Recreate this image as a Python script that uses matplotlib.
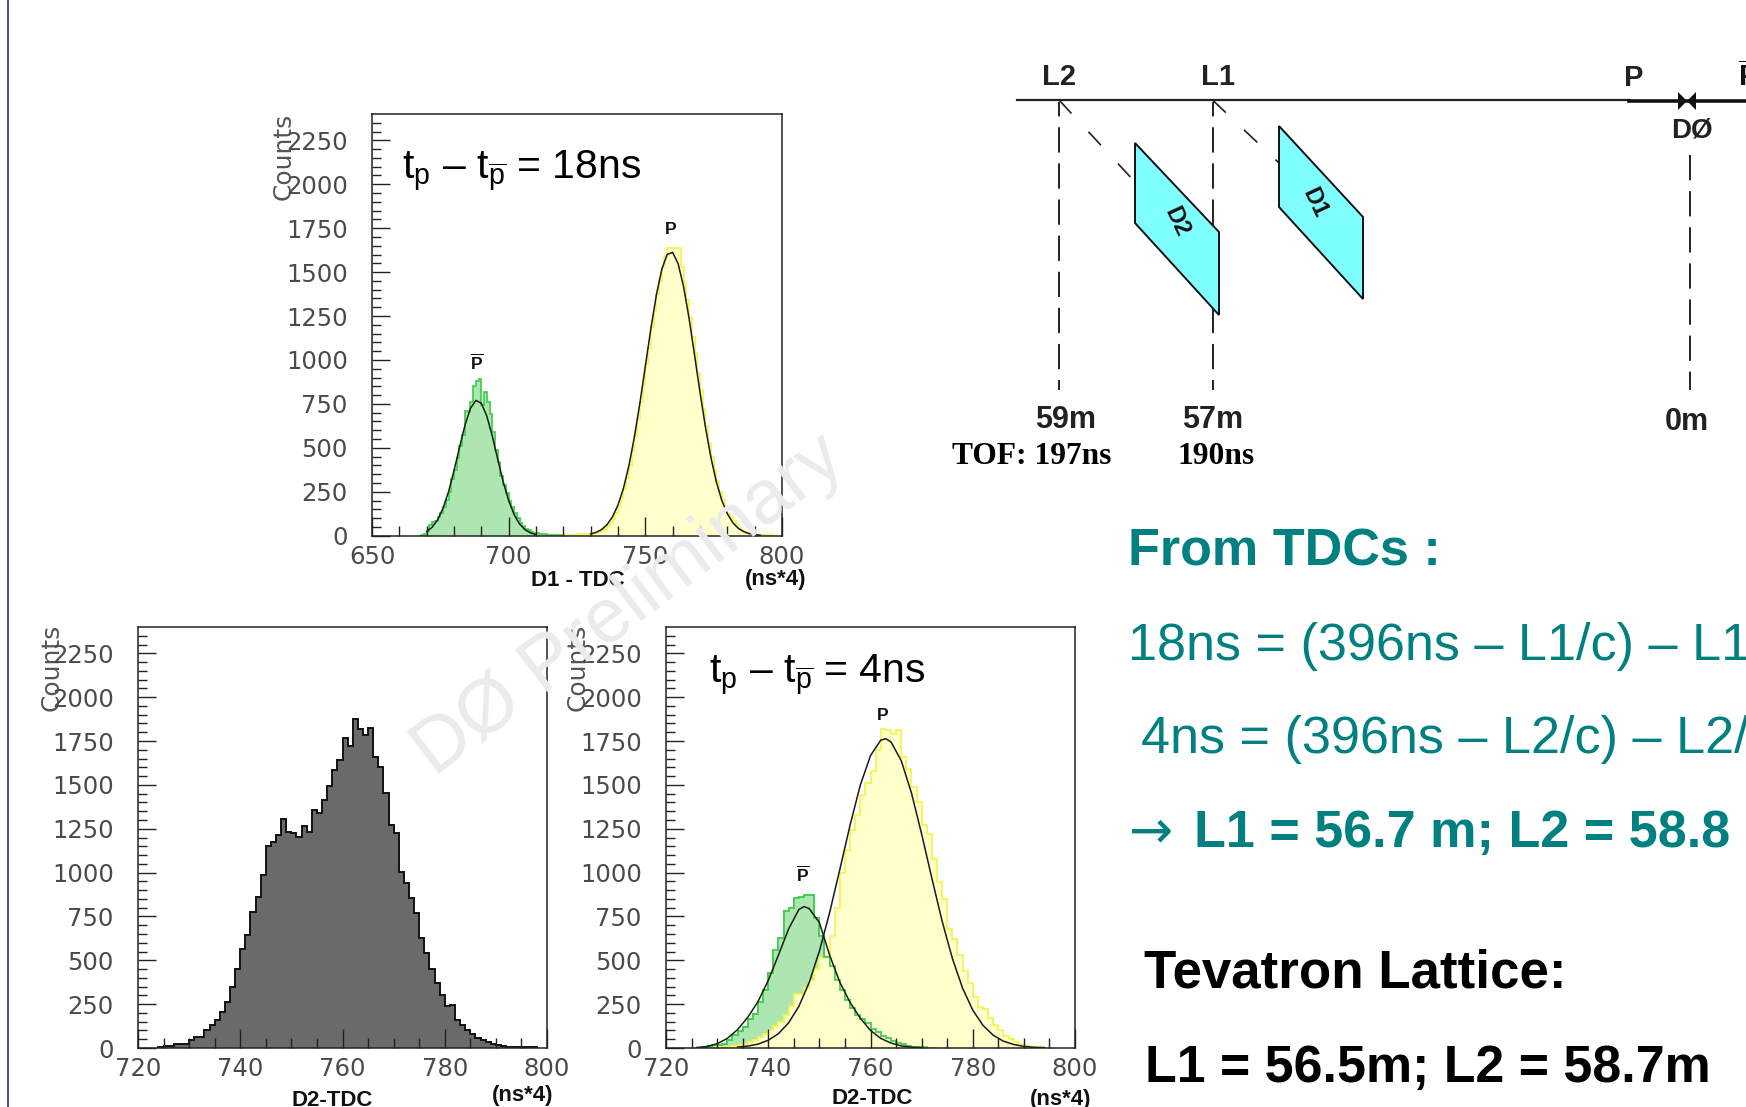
import matplotlib
matplotlib.use("Agg")
import matplotlib.pyplot as plt
from matplotlib.patches import Polygon
import numpy as np

plt.rcParams['font.family'] = ['Liberation Sans', 'DejaVu Sans']
plt.rcParams['mathtext.fontset'] = 'custom'
plt.rcParams['mathtext.rm'] = 'Liberation Sans'
plt.rcParams['mathtext.it'] = 'Liberation Sans'
plt.rcParams['mathtext.bf'] = 'Liberation Sans:bold'

W, H = 1746, 1107
TEAL = '#008080'

# ---------- D1 panel ----------
d1_pbar_start = 668
d1_pbar = [2,8,25,60,80,82,105,130,165,205,250,320,375,440,510,575,710,705,760,850,880,890,745,815,760,
           690,590,490,420,340,290,245,200,165,130,100,75,55,40,30,20,15,15,10,8,8,6,5,4,3,3,2]
d1_p_start = 720
d1_p = [3,4,5,6,6,7,8,9,10,10,12,14,18,22,30,40,55,70,95,130,170,215,265,330,400,480,565,665,760,860,
        975,1070,1185,1280,1375,1450,1530,1590,1640,1640,1635,1640,1640,1530,1440,1340,1240,1130,1040,925,
        830,720,625,530,450,375,310,250,205,160,125,105,85,65,45,30,22,15,10,8,6,5,4,3,3,2,2,1]
d1_pbar_fit_x = [670,672,674,676,678,680,682,684,686,688,690,692,694,696,698,700,702,704,706,708,710]
d1_pbar_fit_y = [24,48,90,157,250,370,502,628,724,770,754,681,567,435,307,200,120,66,34,16,6]
d1_p_fit_x = [730,732,734,736,738,740,742,744,746,748,750,752,754,756,758,760,762,764,766,768,770,772,
              774,776,778,780,782,784,786,788,790,792]
d1_p_fit_y = [10,19,35,63,108,175,270,399,562,754,964,1176,1367,1515,1601,1612,1548,1417,1237,1029,816,617,
              445,305,200,125,74,42,23,12,6,3]

# ---------- D2 total panel ----------
d2_all_start = 724
d2_all = [5,10,10,22,22,22,45,65,65,100,130,160,205,260,350,448,563,645,776,860,988,1150,1176,1212,1305,
          1233,1228,1205,1265,1233,1355,1341,1411,1493,1582,1643,1770,1719,1876,1821,1783,1827,1658,1600,
          1453,1273,1224,1004,939,856,767,626,541,448,370,302,237,245,160,129,100,78,57,44,34,23,17,9,5,5,5,5,5,3]

# ---------- D2 separated panel ----------
d2_pbar_start = 726
d2_pbar = [2,5,10,15,18,25,45,75,95,120,165,195,260,330,430,560,625,780,800,855,860,873,873,740,640,520,465,
           390,330,275,230,190,165,140,110,90,70,55,40,30,20,12,8,5,3,2,1]
d2_p_start = 730
d2_p = [3,4,6,10,15,25,35,45,60,80,100,125,150,190,240,305,305,340,390,450,520,525,640,800,1000,1130,1240,
        1330,1440,1510,1580,1700,1820,1815,1790,1810,1660,1590,1490,1400,1270,1220,1080,945,850,680,620,530,
        440,370,290,235,220,170,130,100,70,50,35,25,15,8,5,3]
d2_pbar_fit_x = [726,728,730,732,734,736,738,740,742,744,746,747,748,750,752,754,756,758,760,762,764,766,768,770]
d2_pbar_fit_y = [3,8,24,55,105,175,265,385,530,680,790,806,795,715,530,375,260,170,100,55,28,12,5,2]
d2_p_fit_x = [734,736,738,740,742,744,746,748,750,752,754,756,758,760,762,763,764,766,768,770,772,774,776,778,
              780,782,784,786,788,790,792,794]
d2_p_fit_y = [5,11,22,44,82,144,238,373,552,771,1018,1270,1498,1667,1755,1763,1745,1639,1455,1220,968,724,512,
              342,216,129,73,39,20,9,4,2]

y_major = [0,250,500,750,1000,1250,1500,1750,2000,2250]
y_minor = list(range(0, 2400, 50))
d1_xticks = [650,700,750,800]
d1_xminor = list(range(660, 800, 10))
d2_xticks = [720,740,760,780,800]
d2_xminor = list(range(725, 800, 5))

# layout, pixels: left, right, top, bottom
box_d1 = (372, 782, 114, 535.7)
box_all = (138, 547, 627, 1048)
box_sep = (666, 1075, 627, 1048)

fig = plt.figure(figsize=(W/100, H/100), dpi=100, facecolor='white')

bg = fig.add_axes([0, 0, 1, 1])
bg.set_xlim(0, W); bg.set_ylim(H, 0); bg.axis('off')

def make_axes(box, xlim, major, minor):
    l, r, t, b = box
    ax = fig.add_axes([l/W, 1-b/H, (r-l)/W, (b-t)/H])
    ax.patch.set_alpha(0)
    ax.set_xlim(*xlim); ax.set_ylim(0, 2400)
    ax.set_xticks(major); ax.set_xticks(minor, minor=True)
    ax.set_yticks(y_major); ax.set_yticks(y_minor, minor=True)
    ax.tick_params(axis='y', which='major', direction='in', length=13, width=1.0, pad=17.5, color='#222222')
    ax.tick_params(axis='y', which='minor', direction='in', length=6.5, width=1.0, color='#222222')
    ax.tick_params(axis='x', which='major', direction='in', length=14, width=1.0, pad=6.5, color='#222222')
    ax.tick_params(axis='x', which='minor', direction='in', length=7, width=1.0, color='#222222')
    for lab in ax.get_xticklabels() + ax.get_yticklabels():
        lab.set_family('DejaVu Sans'); lab.set_fontsize(17.5); lab.set_color('#4a4a4a')
    for s in ax.spines.values():
        s.set_linewidth(1.1); s.set_color('#222222')
    ax.set_axisbelow(False)
    return ax

def hist(ax, start, vals, face, edge, lw=1.3, fill=True, line=True):
    edges = np.arange(start, start + len(vals) + 1)
    if fill:
        ax.stairs(vals, edges, fill=True, color=face, lw=0)
    if line:
        ax.stairs(vals, edges, color=edge, lw=lw)

GREEN_F, GREEN_E = '#AEE6B2', '#45D050'
YEL_F, YEL_E = '#FFFFCC', '#F5F550'

ax1 = make_axes(box_d1, (650, 800), d1_xticks, d1_xminor)
hist(ax1, d1_pbar_start, d1_pbar, GREEN_F, GREEN_E)
hist(ax1, d1_p_start, d1_p, YEL_F, YEL_E)
ax1.plot(d1_pbar_fit_x, d1_pbar_fit_y, color='#1a1a1a', lw=1.1)
ax1.plot(d1_p_fit_x, d1_p_fit_y, color='#1a1a1a', lw=1.1)

ax2 = make_axes(box_all, (720, 800), d2_xticks, d2_xminor)
hist(ax2, d2_all_start, d2_all, '#6A6A6A', '#111111', lw=1.4)

ax3 = make_axes(box_sep, (720, 800), d2_xticks, d2_xminor)
hist(ax3, d2_pbar_start, d2_pbar, GREEN_F, GREEN_E)
hist(ax3, d2_p_start, d2_p, YEL_F, YEL_E)
hist(ax3, d2_pbar_start, d2_pbar, GREEN_F, GREEN_E, fill=False)
ax3.plot(d2_pbar_fit_x, d2_pbar_fit_y, color='#1a1a1a', lw=1.1)
ax3.plot(d2_p_fit_x, d2_p_fit_y, color='#1a1a1a', lw=1.1)

def T(x, y, s, size, weight='normal', color='#111111', ha='center', va='center', family=None, rot=0, **kw):
    if family is None:
        family = ['Liberation Sans', 'DejaVu Sans']
    bg.text(x, y, s, fontsize=size, fontweight=weight, color=color, ha=ha, va=va, family=family,
            rotation=rot, rotation_mode='anchor', **kw)

# axis captions
for x, y in [(284, 156), (52, 667), (578, 667)]:
    T(x, y, 'Counts', 18, color='#555555', rot=90, family='DejaVu Sans')
T(578, 581, 'D1 - TDC', 16, 'bold')
T(776, 580, '(ns*4)', 16, 'bold')
T(332, 1100, 'D2-TDC', 16, 'bold')
T(523, 1095, '(ns*4)', 16, 'bold')
T(872, 1099, 'D2-TDC', 16, 'bold')
T(1061, 1099, '(ns*4)', 16, 'bold')

# panel annotations
T(402, 178, r'$\mathrm{t_p}$ – $\mathrm{t_{\overline{p}}}$ = 18ns', 29.5, color='black', ha='left', va='baseline')
T(709, 682, r'$\mathrm{t_p}$ – $\mathrm{t_{\overline{p}}}$ = 4ns', 29.5, color='black', ha='left', va='baseline')
T(671, 230, 'P', 12.5, 'bold')
T(476.5, 362, r'$\mathbf{\overline{P}}$', 12.5)
T(883, 715, 'P', 12.5, 'bold')
T(803, 874, r'$\mathbf{\overline{P}}$', 12.5)

# ---------- beam diagram ----------
beam_thin = ([1017, 1629], [100, 100])
beam_thick = ([1629, 1746], [101, 101])
bowtie_left = [(1678, 92), (1687, 101), (1678, 110)]
bowtie_right = [(1696, 92), (1687, 101), (1696, 110)]
bg.plot(*beam_thin, color='#222222', lw=1.6)
bg.plot(*beam_thick, color='#111111', lw=2.6)
bg.add_patch(Polygon(bowtie_left, closed=True, fc='#111111', ec='none'))
bg.add_patch(Polygon(bowtie_right, closed=True, fc='#111111', ec='none'))

dash_x = [1059, 1212.5, 1690]
dash_top = [102, 102, 155]
dash_offset = [6, 6, 0]
for x, t, o in zip(dash_x, dash_top, dash_offset):
    bg.plot([x, x], [t, 390], color='#111111', lw=1.3, linestyle=(o, (14, 6)))
diag_lines = [((1059, 1135), (100, 182)), ((1212.5, 1279), (100, 163))]
for xs, ys in diag_lines:
    bg.plot(xs, ys, color='#222222', lw=1.2, dashes=(11, 15))

panel_d2 = [(1135, 143), (1219, 232), (1219, 315), (1135, 223)]
panel_d1 = [(1279, 126), (1363, 217), (1363, 299), (1279, 207)]
for poly in (panel_d2, panel_d1):
    bg.add_patch(Polygon(poly, closed=True, fc='#7FFFFF', ec='#111111', lw=1.4, zorder=3))
bg.text(1176.5, 222, 'D2', fontsize=17, fontweight='bold', rotation=-65, ha='center', va='center', color='#111111', zorder=4)
bg.text(1315, 203, 'D1', fontsize=17, fontweight='bold', rotation=-65, ha='center', va='center', color='#111111', zorder=4)

T(1059, 77, 'L2', 21, 'bold', color='#222222')
T(1218, 77, 'L1', 21, 'bold', color='#222222')
T(1634, 78, 'P', 21, 'bold', color='#222222')
T(1738, 77, r'$\mathbf{\overline{P}}$', 21, ha='left')
T(1692, 130, 'DØ', 20, 'bold', color='#222222')
T(1066, 420, '59m', 22, 'bold', color='#222222')
T(1212.5, 420, '57m', 22, 'bold', color='#222222')
T(1686.5, 422, '0m', 22, 'bold', color='#222222')
T(1032, 457, 'TOF: 197ns', 22.7, 'bold', color='black', family='Liberation Serif')
T(1216, 457, '190ns', 22.7, 'bold', color='black', family='Liberation Serif')

# ---------- right-hand text ----------
T(1128, 566, 'From TDCs :', 37.5, 'bold', color=TEAL, ha='left', va='baseline')
T(1128, 660, '18ns = (396ns – L1/c) – L1', 37.5, color=TEAL, ha='left', va='baseline')
T(1141, 753, '4ns = (396ns – L2/c) – L2/', 37.5, color=TEAL, ha='left', va='baseline')
T(1129, 847, '→', 38, color=TEAL, ha='left', va='baseline', family='DejaVu Sans')
T(1194, 847, 'L1 = 56.7 m; L2 = 58.8', 37.5, 'bold', color=TEAL, ha='left', va='baseline')
T(1143.6, 987, 'Tevatron Lattice:', 38.1, 'bold', color='black', ha='left', va='baseline')
T(1144.7, 1082, 'L1 = 56.5m; L2 = 58.7m', 37.4, 'bold', color='black', ha='left', va='baseline')

# slide edge
bg.plot([8, 8], [0, H], color='#3A3A8C', lw=1.3)

# watermark above everything
fig.text(629/W, 1-606/H, 'DØ Preliminary', fontsize=55, color='#EBEBEB', rotation=37,
         ha='center', va='center', rotation_mode='anchor', zorder=50, family='Liberation Sans')

fig.savefig('out.png', dpi=100, facecolor='white')
